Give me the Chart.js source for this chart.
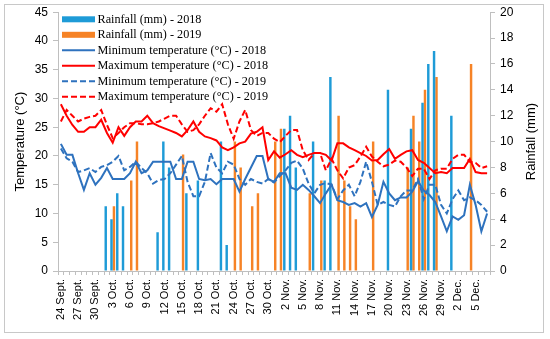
<!DOCTYPE html>
<html><head><meta charset="utf-8">
<script src="https://cdn.jsdelivr.net/npm/chart.js@4"></script>
<style>html,body{margin:0;padding:0;background:#fff}#wrap{width:550px;height:339px;position:relative}</style>
</head><body><div id="wrap"><canvas id="c" width="550" height="339"></canvas></div>
<script>
const dates = ["24 Sept.","25 Sept.","26 Sept.","27 Sept.","28 Sept.","29 Sept.","30 Sept.",
"1 Oct.","2 Oct.","3 Oct.","4 Oct.","5 Oct.","6 Oct.","7 Oct.","8 Oct.","9 Oct.","10 Oct.","11 Oct.","12 Oct.","13 Oct.","14 Oct.","15 Oct.","16 Oct.","17 Oct.","18 Oct.","19 Oct.","20 Oct.","21 Oct.","22 Oct.","23 Oct.","24 Oct.","25 Oct.","26 Oct.","27 Oct.","28 Oct.","29 Oct.","30 Oct.","31 Oct.",
"1 Nov.","2 Nov.","3 Nov.","4 Nov.","5 Nov.","6 Nov.","7 Nov.","8 Nov.","9 Nov.","10 Nov.","11 Nov.","12 Nov.","13 Nov.","14 Nov.","15 Nov.","16 Nov.","17 Nov.","18 Nov.","19 Nov.","20 Nov.","21 Nov.","22 Nov.","23 Nov.","24 Nov.","25 Nov.","26 Nov.","27 Nov.","28 Nov.","29 Nov.","30 Nov.",
"1 Dec.","2 Dec.","3 Dec.","4 Dec.","5 Dec.","6 Dec.","7 Dec."];

const rain2018 = [null,null,null,null,null,null,null,null,5,4,
6,5,null,null,null,null,null,3,10,8,
null,null,6,null,7,null,null,null,10,2,
null,null,null,null,null,null,null,null,null,11,
12,8,null,null,10,null,7,15,null,null,
null,null,null,null,null,null,null,14,null,null,
null,11,null,13,16,17,null,null,12,null,
null,null,null,null,null];

const rain2019 = [null,null,null,null,null,null,null,null,null,5,
null,null,7,10,null,null,null,null,null,null,
null,9,null,null,null,null,null,null,null,null,
10,8,null,5,6,null,null,10,11,null,
null,null,null,6,null,7,null,null,12,7,
5,4,null,null,10,null,null,null,null,null,
8,12,10,14,null,15,null,null,null,null,
null,16,null,null,null];

const minT2018 = [22.1,20.2,20.2,17,14.1,17,15,16.2,17.9,16,
16,16,17,19,17,17.5,19,19,19,19,
16,16,19,19,16,15.8,16,15.1,16,16,
16,13.8,16,18,20,20,16,15.5,17,17,
14.5,14.1,15,14.1,13,11.8,13.5,15,12.3,12,
11.5,11.8,11.2,11.8,9.4,11.5,15.5,13.5,12.3,12.8,
12.8,13.8,15.6,14,13.2,12,9.5,6.9,9.5,8.9,
9.7,15,11.5,6.9,10];

const maxT2018 = [29,27,25.4,24.2,24.2,25,25,26.3,24,22.3,
25,23.5,25,26,26,27,25.7,25.2,24.8,24.4,
24,23.4,24.5,26,24.2,23.4,23.1,22.7,21.5,21,
21.5,22.2,22.5,23.9,24.2,25,19.3,20.8,19.7,20.3,
21,20.2,19.8,20.2,20.5,20.5,20.2,19.2,22.2,22.2,
21.5,21,20.5,20,19.2,19.3,20.3,21.2,19.5,20.2,
20.8,21,19.3,18.8,17.9,17,17.2,17,17.9,17.9,
17.9,19.5,17.2,17,17];

const minT2019 = [21.3,19.6,19,17.2,17.5,17.9,17.2,18.1,18.4,19,
20,17.5,18.1,19,17.9,17,15.2,15.8,16,17,
18.5,20,15.5,13,13,15.5,20.5,18,17,19,
18.5,16,15,16,15.5,15.2,16,15.4,16.5,17.5,
18.8,19.2,17.8,15.2,13.5,15,15.3,15,12.5,14,
15,13,15.5,19,15.5,11.5,12,11.5,11.2,13,
14,14,16,12.5,15,15,11.5,10,12.5,14,
12.3,12.8,12.3,11.5,10.3];

const maxT2019 = [26,28,27,26,26.5,26.8,27,28,25.4,23.1,
24,25,25.7,25.7,25.5,25.5,25.7,26,26.5,27,
27,25.5,24.2,24.5,25.5,27,28.3,27.7,29,25.5,
23,26,28,24.5,23.5,24,24,23,22.4,23.5,
24.5,24.5,21,19.3,20.5,20.5,17.5,19.5,17.5,16.1,
18,18.4,19.9,21.6,19.9,19,18.2,18.5,19.2,19,
18,16.5,17.8,17.8,16,17.5,17.8,17.8,19.5,20.2,
20.2,19,18.8,17.9,18.2];

const seriesNames = ["Rainfall (mm) - 2018","Rainfall (mm) - 2019",
"Minimum temperature (°C) - 2018","Maximum temperature (°C) - 2018",
"Minimum temperature (°C) - 2019","Maximum temperature (°C) - 2019"];
const leftTitle = 'Temperature (°C)';
const rightTitle = 'Rainfall (mm)';

const BLUE_BAR = '#1E9BD7', ORANGE_BAR = '#F68326', BLUE_LINE = '#2E72BE', RED_LINE = '#FF0000';
const AX = '#BFBFBF';
const SANS = '"Liberation Sans", Arial, sans-serif';

const frameAndLegend = {
  id: 'frameAndLegend',
  beforeDraw(chart) {
    const ctx = chart.ctx;
    ctx.save();
    ctx.fillStyle = '#fff';
    ctx.fillRect(0, 0, chart.width, chart.height);
    ctx.restore();
  },
  afterDraw(chart) {
    const ctx = chart.ctx;
    const area = chart.chartArea;
    ctx.save();
    ctx.strokeStyle = '#C8C8C8';
    ctx.lineWidth = 1;
    ctx.strokeRect(4.5, 4.5, 539, 328);
    // right axis title, reading bottom-to-top
    ctx.save();
    ctx.translate(531, (area.top + area.bottom) / 2);
    ctx.rotate(-Math.PI / 2);
    ctx.fillStyle = '#000';
    ctx.font = '13px ' + SANS;
    ctx.textAlign = 'center';
    ctx.textBaseline = 'middle';
    ctx.fillText(rightTitle, 0, 0);
    ctx.restore();
    const order = [4, 5, 0, 1, 2, 3];
    order.forEach((dsIdx, k) => {
      const ds = chart.data.datasets[dsIdx];
      const y = 19.3 + k * 15.5;
      if (ds.type === 'bar') {
        ctx.fillStyle = ds.backgroundColor;
        ctx.fillRect(62, y - 3, 33, 6);
      } else {
        ctx.strokeStyle = ds.borderColor;
        ctx.lineWidth = 2;
        ctx.setLineDash(ds.borderDash || []);
        ctx.beginPath();
        ctx.moveTo(62, y);
        ctx.lineTo(95, y);
        ctx.stroke();
        ctx.setLineDash([]);
      }
      ctx.fillStyle = '#000';
      ctx.font = '12.2px "Liberation Serif", "Times New Roman", serif';
      ctx.textBaseline = 'middle';
      ctx.textAlign = 'left';
      ctx.fillText(ds.label, 97.5, y + 0.5);
    });
    ctx.restore();
  }
};

new Chart(document.getElementById('c'), {
  type: 'bar',
  data: {
    labels: dates,
    datasets: [
      {type:'line', label: seriesNames[2], data: minT2018, borderColor: BLUE_LINE, borderWidth: 2, pointRadius: 0, tension: 0, yAxisID: 'y', order: 1},
      {type:'line', label: seriesNames[3], data: maxT2018, borderColor: RED_LINE, borderWidth: 2, pointRadius: 0, tension: 0, yAxisID: 'y', order: 1},
      {type:'line', label: seriesNames[4], data: minT2019, borderColor: BLUE_LINE, borderWidth: 2, borderDash: [6,3], pointRadius: 0, tension: 0, yAxisID: 'y', order: 1},
      {type:'line', label: seriesNames[5], data: maxT2019, borderColor: RED_LINE, borderWidth: 2, borderDash: [6,3], pointRadius: 0, tension: 0, yAxisID: 'y', order: 1},
      {type:'bar', label: seriesNames[0], data: rain2018, backgroundColor: BLUE_BAR, yAxisID: 'y1', order: 2, categoryPercentage: 0.85, barPercentage: 1.0},
      {type:'bar', label: seriesNames[1], data: rain2019, backgroundColor: ORANGE_BAR, yAxisID: 'y1', order: 2, categoryPercentage: 0.85, barPercentage: 1.0}
    ]
  },
  options: {
    responsive: false,
    animation: false,
    devicePixelRatio: 1,
    layout: {padding: {left: 5, right: 5, top: 12, bottom: 6}},
    plugins: {legend: {display: false}, tooltip: {enabled: false}},
    scales: {
      x: {
        grid: {display: true, drawOnChartArea: false, drawTicks: true, tickLength: 4, color: AX},
        border: {color: AX},
        ticks: {autoSkip: false, maxRotation: 90, minRotation: 90, padding: 4, color: '#000',
          font: {size: 11, family: SANS},
          callback: (v, i) => (i % 3 === 0 ? dates[i] : '')},
        afterFit: s => { s.height = 62; }
      },
      y: {
        position: 'left', min: 0, max: 45,
        grid: {drawOnChartArea: false, tickLength: 5, color: AX},
        border: {color: AX},
        ticks: {stepSize: 5, padding: 5, color: '#000', font: {size: 12, family: SANS}},
        title: {display: true, text: leftTitle, color: '#000', font: {size: 13, family: SANS}, padding: {top: 8, bottom: 0}},
        afterFit: s => { s.width = 53; }
      },
      y1: {
        position: 'right', min: 0, max: 20,
        grid: {drawOnChartArea: false, tickLength: 5, color: AX},
        border: {color: AX},
        ticks: {stepSize: 2, padding: 5, color: '#000', font: {size: 12, family: SANS}},
        afterFit: s => { s.width = 55; }
      }
    }
  },
  plugins: [frameAndLegend]
});
</script>
</body></html>
